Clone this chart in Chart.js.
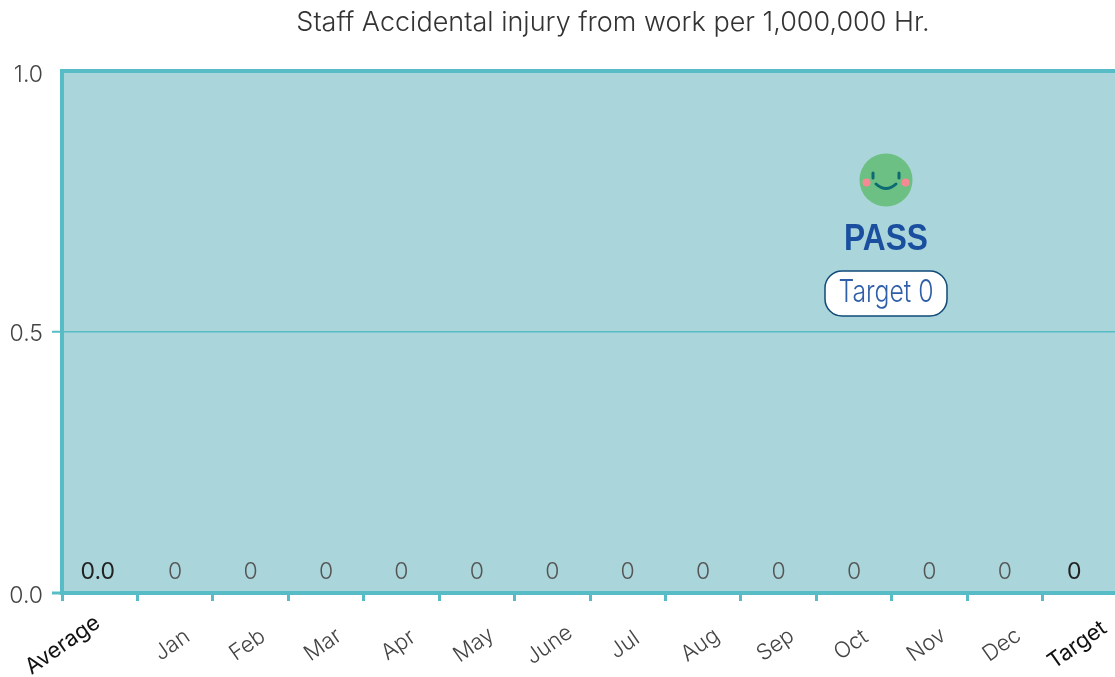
<!DOCTYPE html>
<html><head><meta charset="utf-8">
<style>html,body{margin:0;padding:0;background:#fff;overflow:hidden}canvas{display:block}</style>
<script src="https://cdn.jsdelivr.net/npm/chart.js@4/dist/chart.umd.min.js"></script>
</head><body><canvas id="c" width="1118" height="677"></canvas>
<script>
const categories=['Average','Jan','Feb','Mar','Apr','May','June','Jul','Aug','Sep','Oct','Nov','Dec','Target'];
const values=[0,0,0,0,0,0,0,0,0,0,0,0,0,0];
const valueLabels=['0.0','0','0','0','0','0','0','0','0','0','0','0','0','0'];
const yTicks=[0,0.5,1];
const titleText='Staff Accidental injury from work per 1,000,000 Hr.';
const statusText='PASS';
const targetText='Target 0';
const TEAL='#57bcc5',BG='#aad5da',FF='"Liberation Sans",Arial,sans-serif',FAM='Inter,'+FF;
const isEnd=i=>i===0||i===categories.length-1;
const yNudge={0:3,0.5:2.5,1:4};
function rr(ctx,x,y,w,h,r){ctx.beginPath();ctx.roundRect(x,y,w,h,r);}
const plugin={id:'deco',
 afterLayout(chart){chart.titleBlock.left+=108;},
 beforeDraw(chart){const {ctx,chartArea:a}=chart;ctx.save();ctx.fillStyle=BG;ctx.fillRect(a.left,a.top,a.right-a.left,a.bottom-a.top);ctx.restore();
  const xs=chart.scales.x;
  xs.getLabelItems(a).forEach((it,i)=>{const o=it.options;o.textAlign='center';o.textBaseline='middle';it.textOffset=0;
    o.translation=[xs.getPixelForTick(i)-(i===0?37:3),645];});
  const ys=chart.scales.y;
  ys.getLabelItems(a).forEach((it,i)=>{it.options.translation=[it.options.translation[0],ys.getPixelForTick(i)+yNudge[ys.ticks[i].value]];});
 },
 afterDatasetsDraw(chart){const {ctx}=chart,xs=chart.scales.x;ctx.save();
  ctx.textAlign='center';ctx.textBaseline='middle';
  valueLabels.forEach((t,i)=>{ctx.font=(isEnd(i)?'400':'300')+' 23px '+FAM;ctx.fillStyle=isEnd(i)?'#222':'#555';ctx.fillText(t,xs.getPixelForTick(i)-(i===0?2:i===categories.length-1?6:0),572);});
  const cx=886;
  ctx.fillStyle='#6dc083';ctx.beginPath();ctx.arc(cx,180,26.5,0,Math.PI*2);ctx.fill();
  ctx.fillStyle='#f58a94';[-19.5,19.5].forEach(d=>{ctx.beginPath();ctx.arc(cx+d,182.5,4,0,Math.PI*2);ctx.fill();});
  ctx.strokeStyle='#0c6a72';ctx.lineCap='round';ctx.lineWidth=3;
  [-13,13].forEach(d=>{ctx.beginPath();ctx.moveTo(cx+d,173);ctx.lineTo(cx+d,178);ctx.stroke();});
  ctx.beginPath();ctx.moveTo(cx-10,184);ctx.quadraticCurveTo(cx,193,cx+10,184);ctx.stroke();
  ctx.save();ctx.translate(cx,240);ctx.scale(0.88,1);ctx.font='bold 36px '+FF;ctx.fillStyle='#1a4f9f';ctx.fillText(statusText,0,0);ctx.restore();
  rr(ctx,825,271,122,45,17);ctx.fillStyle='#fff';ctx.fill();ctx.strokeStyle='#0f4a78';ctx.lineWidth=1.5;ctx.stroke();
  ctx.save();ctx.translate(cx,293);ctx.scale(0.8,1);ctx.font='300 31px '+FAM;ctx.fillStyle='#2f5fa8';ctx.fillText(targetText,0,0);ctx.restore();
  ctx.restore();}
};
new Chart(document.getElementById('c'),{type:'bar',
 data:{labels:categories,datasets:[{label:'Value',data:values,backgroundColor:TEAL}]},
 plugins:[plugin],
 options:{responsive:false,animation:false,
  layout:{padding:0},
  plugins:{legend:{display:false},tooltip:{enabled:false},
   title:{display:true,text:titleText,color:'#333',font:{family:FAM,size:27,weight:300},padding:{top:7,bottom:31.6}}},
  scales:{
   x:{offset:true,grid:{offset:true,drawOnChartArea:false,drawTicks:true,tickLength:8,tickWidth:3,tickColor:TEAL},
      border:{color:TEAL,width:4},
      afterFit(s){s.height=84;},
      ticks:{autoSkip:false,maxRotation:35,minRotation:35,padding:8,font:c=>({family:FAM,size:22,weight:isEnd(c.index)?400:300}),color:c=>isEnd(c.index)?'#111':'#444'}},
   y:{min:0,max:1,afterBuildTicks(s){s.ticks=yTicks.map(v=>({value:v}));},
      afterFit(s){s.width=62;},
      grid:{color:TEAL,lineWidth:c=>c.tick&&c.tick.value===0.5?1.5:4,drawTicks:true,tickLength:10,tickWidth:c=>c.tick&&c.tick.value===0.5?2:3,tickColor:c=>c.tick&&c.tick.value===1?'rgba(0,0,0,0)':TEAL},
      border:{color:TEAL,width:4},
      ticks:{padding:9,callback:v=>Number(v).toFixed(1),font:{family:FAM,size:23,weight:300},color:'#444'}}
  }}});
</script></body></html>
